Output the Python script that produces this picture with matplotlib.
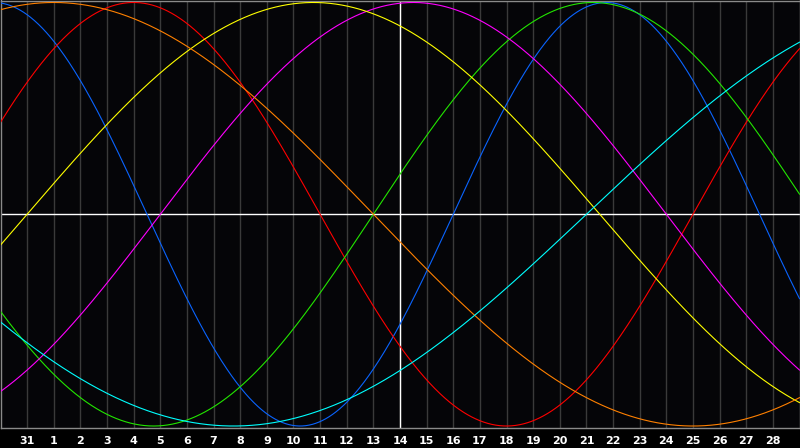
import numpy as np
import matplotlib
matplotlib.use('Agg')
import matplotlib.pyplot as plt

# Biorhythm cycles (period in days) and their colours
cycle_names = ["physical", "emotional", "intellectual", "intuitive",
               "aesthetic", "awareness", "spiritual"]
periods = [23, 28, 33, 38, 43, 48, 53]
colors = ['#0a64ff', '#ff0000', '#22e600', '#ff00ff',
          '#ffff00', '#ff8000', '#00ffff']

# Days lived at the left edge of the chart
days_at_start = 44074

# Day labels along the bottom (positions 1..29)
day_labels = ["31"] + [str(d) for d in range(1, 29)]
n_days = 30
today = 15  # position of the white centre line (day 14)

fig = plt.figure(figsize=(8, 4.48), dpi=100, facecolor='black')
ax = fig.add_axes([0.5 / 800, 20 / 448, 799 / 800, 427.5 / 448])
ax.set_facecolor('#050508')

t = np.linspace(0, n_days, 1200)
for name, p, c in zip(cycle_names, periods, colors):
    ax.plot(t, np.sin(2 * np.pi * (days_at_start + t) / p), color=c, lw=0.8, zorder=3)

pos = np.arange(1, len(day_labels) + 1)
for x in pos:
    ax.axvline(x, color='#3a3a3a', lw=1, zorder=1)
ax.axvline(today, color='white', lw=1, zorder=2)
ax.axhline(0, color='white', lw=1, zorder=2)

ax.set_xlim(0, n_days)
ax.set_ylim(-1.0094, 1.0094)
ax.set_xticks(pos)
ax.set_xticklabels(day_labels, color='white', fontsize=8, fontweight='bold')
ax.tick_params(axis='x', length=0, pad=6)
ax.set_yticks([])
for s in ax.spines.values():
    s.set_color('#8a8a8a')
    s.set_linewidth(1)

fig.savefig('out.png', dpi=100, facecolor='black')
